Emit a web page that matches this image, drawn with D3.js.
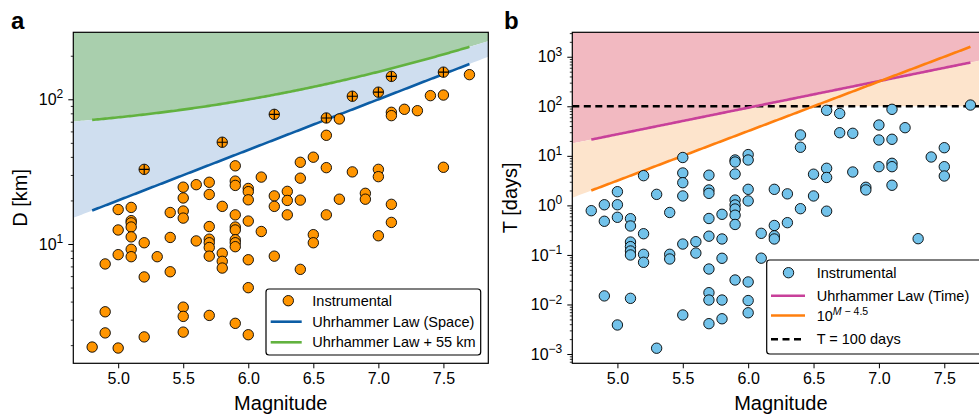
<!DOCTYPE html>
<html><head><meta charset="utf-8">
<script src="https://cdn.jsdelivr.net/npm/d3@7"></script>
<style>
body{margin:0;background:#fff}
svg{display:block}
text{font-family:"Liberation Sans",Arial,Helvetica,sans-serif;fill:#000}
</style>
</head><body>
<svg id="c" width="979" height="416"></svg>
<script>
// ---------------- DATA ----------------
// Panel a: instrumental events, magnitude and distance D [km]
const magA = [4.8,
  4.9,4.9,4.9,
  5.0,5.0,5.0,5.0,
  5.1,5.1,5.1,5.1,5.1,5.1,5.1,
  5.2,5.2,5.2,5.2,
  5.3,
  5.4,5.4,5.4,
  5.5,5.5,5.5,5.5,5.5,5.5,5.5,
  5.6,5.6,
  5.7,5.7,5.7,5.7,5.7,5.7,5.7,5.7,
  5.8,5.8,5.8,5.8,5.8,
  5.9,5.9,5.9,5.9,5.9,5.9,5.9,5.9,5.9,5.9,
  6.0,6.0,6.0,6.0,6.0,6.0,6.0,
  6.1,6.1,
  6.2,6.2,6.2,6.2,
  6.3,6.3,6.3,
  6.4,6.4,6.4,6.4,
  6.5,6.5,6.5,
  6.6,6.6,6.6,6.6,
  6.7,6.7,
  6.8,6.8,
  6.9,6.9,
  7.0,7.0,7.0,7.0,
  7.1,7.1,7.1,7.1,7.1,
  7.2,7.3,7.4,
  7.5,7.5,7.5,
  7.7];
const distA = [1.94,
  7.28,3.40,2.43,
  17.3,12.5,8.44,1.91,
  17.9,14.5,14.0,13.1,11.2,9.19,8.17,
  32.8,10.2,5.92,2.28,
  8.17,
  16.5,11.1,6.43,
  24.7,20.8,16.9,15.1,3.66,3.16,2.46,
  25.7,10.5,
  26.7,22.0,13.2,10.8,10.2,9.46,8.24,3.21,
  50.5,18.2,8.63,7.59,6.82,
  34.7,27.2,25.4,15.9,13.1,12.5,10.7,10.2,9.58,2.83,
  24.2,23.0,20.2,14.4,7.78,4.99,2.36,
  29.0,12.2,
  78.7,21.5,18.2,8.24,
  23.1,20.0,15.9,
  36.7,28.5,20.1,6.68,
  39.8,11.6,10.2,
  74.3,56.4,33.7,15.9,
  73.1,20.4,
  105,31.5,
  22.4,20.4,
  112,32.8,29.2,11.4,
  144,81.3,77.1,18.8,14.1,
  85.3,83.4,106,
  154,107,33.9,
  148];

// Panel b: instrumental events, magnitude and duration T [days]
const magB = [4.8,
  4.9,4.9,4.9,
  5.0,5.0,5.0,5.0,
  5.1,5.1,5.1,5.1,5.1,5.1,5.1,
  5.2,5.2,5.2,5.2,
  5.3,5.3,
  5.4,5.4,5.4,
  5.5,5.5,5.5,5.5,5.5,5.5,
  5.6,5.6,
  5.7,5.7,5.7,5.7,5.7,5.7,5.7,5.7,5.7,
  5.8,5.8,5.8,5.8,5.8,
  5.9,5.9,5.9,5.9,5.9,5.9,5.9,5.9,5.9,
  6.0,6.0,6.0,6.0,6.0,6.0,6.0,
  6.1,6.1,
  6.2,6.2,6.2,6.2,
  6.3,6.3,
  6.4,6.4,6.4,
  6.5,6.5,
  6.6,6.6,6.6,6.6,
  6.7,6.7,
  6.8,6.8,
  6.9,6.9,
  7.0,7.0,7.0,
  7.1,7.1,7.1,7.1,7.1,
  7.2,7.3,7.4,
  7.5,7.5,7.5,
  7.7];
const timeB = [0.782,
  1.03,0.478,0.0149,
  1.89,1.03,0.575,0.00386,
  0.539,0.384,0.182,0.147,0.120,0.0998,0.0133,
  3.98,0.268,0.103,0.0711,
  1.67,0.00131,
  0.719,0.103,0.0828,
  9.26,4.51,2.87,1.55,0.166,0.00614,
  0.185,0.109,
  4.07,2.05,1.75,0.544,0.239,0.052,0.0173,0.0123,0.0041,
  0.661,0.210,0.0856,0.0123,0.00515,
  8.25,7.51,4.30,1.28,1.02,0.846,0.634,0.412,0.0312,
  10.6,8.25,2.11,1.23,0.0285,0.0120,0.0068,
  0.273,0.086,
  2.11,0.393,0.243,0.210,
  1.71,0.448,
  26.4,14.9,0.858,
  4.26,1.55,
  83.0,5.61,3.66,0.764,
  71.6,29.3,
  28.5,4.72,
  2.32,2.05,
  41.9,20.9,6.04,
  86.9,21.6,7.07,6.04,2.55,
  37.0,0.213,9.48,
  14.6,6.04,3.92,
  106];

// Reference laws
const lawRange = [4.8, 7.7];          // magnitude span of the drawn law lines
const uhrSpace = {a: -1.024, b: 0.804}; // D = exp(a + b M) km
const uhrTime  = {a: -2.87,  b: 1.235}; // T = exp(a + b M) days
const offsetKm = 55;
const powOffset = 4.5;                  // T = 10^(M - 4.5)
const thresholdDays = 100;

// Ticks
const xTicks = [5.0, 5.5, 6.0, 6.5, 7.0, 7.5];
const aYTicks = [10, 100];
const bYTicks = [1e-3, 1e-2, 1e-1, 1, 10, 100, 1000];
const xDomain = [4.655, 7.845];
const aYDomain = [1.498, 290.4];
const bYDomain = [6.5e-4, 3115];

// Legend labels
const legendA = ["Instrumental", "Uhrhammer Law (Space)", "Uhrhammer Law + 55 km"];
const legendB = ["Instrumental", "Uhrhammer Law (Time)", "10^M − 4.5", "T = 100 days"];

// ---------------- DRAW ----------------
const uD = m => Math.exp(uhrSpace.a + uhrSpace.b * m);
const uT = m => Math.exp(uhrTime.a + uhrTime.b * m);
const pT = m => Math.pow(10, m - powOffset);

const svg = d3.select('#c');
const TOP = 32.3, BOT = 363.3;

const C = {
  orange: '#ff9500', sky: '#72c2ea',
  blueLine: '#0c5da5', greenLine: '#62b23f',
  blueFill: '#cfdeef', greenFill: '#a9cfad',
  magenta: '#c8409a', orangeLine: '#ff7f0e',
  pinkFill: '#f2b9c1', peachFill: '#fde4cc'
};

function grid(d0, d1, n) { return d3.range(n + 1).map(i => d0 + (d1 - d0) * i / n); }

function minorTicks(dom) {
  const out = [];
  const e0 = Math.floor(Math.log10(dom[0])), e1 = Math.ceil(Math.log10(dom[1]));
  for (let e = e0; e <= e1; e++) for (let k = 2; k <= 9; k++) {
    const v = k * Math.pow(10, e);
    if (v >= dom[0] && v <= dom[1]) out.push(v);
  }
  return out;
}

function supLabels(g) {
  g.selectAll('.tick text').each(function(d) {
    const t = d3.select(this); t.text(null);
    const e = Math.round(Math.log10(d));
    t.append('tspan').text('10');
    t.append('tspan').attr('dy', '-0.55em').attr('font-size', '12px')
      .text(e < 0 ? '\u2212' + (-e) : String(e));
  });
}

function frameAxes(id, L, R, x, y, yTicks, yDom, ylabel, ylabelX, letter, letterX) {
  const clip = svg.append('clipPath').attr('id', 'clip' + id);
  clip.append('rect').attr('x', L).attr('y', TOP).attr('width', R - L).attr('height', BOT - TOP);
  const plot = svg.append('g').attr('clip-path', `url(#clip${id})`);

  // axes
  const gx = svg.append('g').attr('transform', `translate(0,${BOT})`)
    .call(d3.axisBottom(x).tickValues(xTicks).tickSize(5).tickPadding(4).tickFormat(d3.format('.1f')));
  gx.select('.domain').remove();
  gx.selectAll('text').attr('font-size', '16px').attr('font-family', '"Liberation Sans",Arial,sans-serif');
  gx.selectAll('line').attr('stroke', '#000');

  const gyMinor = svg.append('g').attr('transform', `translate(${L},0)`)
    .call(d3.axisLeft(y).tickValues(minorTicks(yDom)).tickSize(2.5).tickFormat(''));
  gyMinor.select('.domain').remove();
  gyMinor.selectAll('line').attr('stroke', '#000').attr('stroke-width', 0.8);

  const gy = svg.append('g').attr('transform', `translate(${L},0)`)
    .call(d3.axisLeft(y).tickValues(yTicks).tickSize(5).tickPadding(5));
  gy.select('.domain').remove();
  gy.selectAll('line').attr('stroke', '#000');
  gy.selectAll('text').attr('font-size', '16px').attr('font-family', '"Liberation Sans",Arial,sans-serif');
  supLabels(gy);

  svg.append('text').attr('x', (L + R) / 2).attr('y', 410).attr('text-anchor', 'middle')
    .attr('font-size', '20px').text('Magnitude');
  svg.append('text').attr('transform', `translate(${ylabelX},${(TOP + BOT) / 2}) rotate(-90)`)
    .attr('text-anchor', 'middle').attr('font-size', '20px').text(ylabel);
  svg.append('text').attr('x', letterX).attr('y', 29).attr('font-size', '24px')
    .attr('font-weight', 'bold').text(letter);
  return plot;
}

function frameRect(L, R) {
  svg.append('rect').attr('x', L).attr('y', TOP).attr('width', R - L).attr('height', BOT - TOP)
    .attr('fill', 'none').attr('stroke', '#000').attr('stroke-width', 1.2);
}

// ===== Panel a =====
(function() {
  const L = 73.3, R = 488.3;
  const x = d3.scaleLinear().domain(xDomain).range([L, R]);
  const y = d3.scaleLog().domain(aYDomain).range([BOT, TOP]);
  const plot = frameAxes('a', L, R, x, y, aYTicks, aYDomain, 'D [km]', 27, 'a', 11);
  const full = grid(xDomain[0], xDomain[1], 200);
  const part = grid(lawRange[0], lawRange[1], 200);

  plot.append('path').datum(full).attr('fill', C.greenFill)
    .attr('d', d3.area().x(m => x(m)).y0(m => y(uD(m) + offsetKm)).y1(TOP));
  plot.append('path').datum(full).attr('fill', C.blueFill)
    .attr('d', d3.area().x(m => x(m)).y0(m => y(uD(m))).y1(m => y(uD(m) + offsetKm)));
  plot.append('path').datum(part).attr('fill', 'none').attr('stroke', C.blueLine).attr('stroke-width', 2.6)
    .attr('d', d3.line().x(m => x(m)).y(m => y(uD(m))));
  plot.append('path').datum(part).attr('fill', 'none').attr('stroke', C.greenLine).attr('stroke-width', 2.6)
    .attr('d', d3.line().x(m => x(m)).y(m => y(uD(m) + offsetKm)));

  const pts = magA.map((m, i) => ({m, d: distA[i]}));
  plot.selectAll('circle.pa').data(pts).join('circle').attr('class', 'pa')
    .attr('cx', p => x(p.m)).attr('cy', p => y(p.d)).attr('r', 5.2)
    .attr('fill', C.orange).attr('stroke', '#000').attr('stroke-width', 0.9);
  const plus = pts.filter(p => p.d > uD(p.m));
  plot.selectAll('path.plus').data(plus).join('path').attr('class', 'plus')
    .attr('d', p => `M${x(p.m) - 5},${y(p.d)}H${x(p.m) + 5}M${x(p.m)},${y(p.d) - 5}V${y(p.d) + 5}`)
    .attr('stroke', '#000').attr('stroke-width', 1.1);

  frameRect(L, R);

  // legend
  const lg = svg.append('g');
  lg.append('rect').attr('x', 266).attr('y', 289).attr('width', 214.7).attr('height', 66)
    .attr('rx', 3).attr('fill', '#fff').attr('stroke', '#000').attr('stroke-width', 1.2);
  const rows = [300.7, 321.7, 342.3];
  lg.append('circle').attr('cx', 288.3).attr('cy', rows[0]).attr('r', 5.2)
    .attr('fill', C.orange).attr('stroke', '#000').attr('stroke-width', 0.9);
  lg.append('line').attr('x1', 270.7).attr('x2', 301.7).attr('y1', rows[1]).attr('y2', rows[1])
    .attr('stroke', C.blueLine).attr('stroke-width', 2.6);
  lg.append('line').attr('x1', 270.7).attr('x2', 301.7).attr('y1', rows[2]).attr('y2', rows[2])
    .attr('stroke', C.greenLine).attr('stroke-width', 2.6);
  legendA.forEach((s, i) => lg.append('text').attr('x', 312.3).attr('y', rows[i] + 5)
    .attr('font-size', '14.5px').text(s));
})();

// ===== Panel b =====
(function() {
  const L = 572.3, R = 989.4;
  const x = d3.scaleLinear().domain(xDomain).range([L, R]);
  const y = d3.scaleLog().domain(bYDomain).range([BOT, TOP]);
  const plot = frameAxes('b', L, R, x, y, bYTicks, bYDomain, 'T [days]', 517, 'b', 504);
  const full = grid(xDomain[0], xDomain[1], 200);
  const part = grid(lawRange[0], lawRange[1], 200);

  plot.append('path').datum(full).attr('fill', C.pinkFill)
    .attr('d', d3.area().x(m => x(m)).y0(m => y(uT(m))).y1(TOP));
  plot.append('path').datum(full).attr('fill', C.peachFill)
    .attr('d', d3.area().x(m => x(m)).y0(m => y(Math.min(pT(m), thresholdDays))).y1(m => y(uT(m))));
  plot.append('line').attr('x1', L).attr('x2', R).attr('y1', y(thresholdDays)).attr('y2', y(thresholdDays))
    .attr('stroke', '#000').attr('stroke-width', 2.6).attr('stroke-dasharray', '7,4.5');
  plot.append('path').datum(part).attr('fill', 'none').attr('stroke', C.magenta).attr('stroke-width', 2.6)
    .attr('d', d3.line().x(m => x(m)).y(m => y(uT(m))));
  plot.append('path').datum(part).attr('fill', 'none').attr('stroke', C.orangeLine).attr('stroke-width', 2.6)
    .attr('d', d3.line().x(m => x(m)).y(m => y(pT(m))));

  const pts = magB.map((m, i) => ({m, t: timeB[i]}));
  plot.selectAll('circle.pb').data(pts).join('circle').attr('class', 'pb')
    .attr('cx', p => x(p.m)).attr('cy', p => y(p.t)).attr('r', 5.2)
    .attr('fill', C.sky).attr('stroke', '#000').attr('stroke-width', 0.9);

  frameRect(L, R);

  const lg = svg.append('g');
  lg.append('rect').attr('x', 766.7).attr('y', 260).attr('width', 215.5).attr('height', 94)
    .attr('rx', 3).attr('fill', '#fff').attr('stroke', '#000').attr('stroke-width', 1.2);
  const rows = [272.7, 295.7, 315.5, 339.3];
  lg.append('circle').attr('cx', 788.5).attr('cy', rows[0]).attr('r', 5.2)
    .attr('fill', C.sky).attr('stroke', '#000').attr('stroke-width', 0.9);
  lg.append('line').attr('x1', 771).attr('x2', 805).attr('y1', rows[1]).attr('y2', rows[1])
    .attr('stroke', C.magenta).attr('stroke-width', 2.6);
  lg.append('line').attr('x1', 771).attr('x2', 805).attr('y1', rows[2]).attr('y2', rows[2])
    .attr('stroke', C.orangeLine).attr('stroke-width', 2.6);
  lg.append('line').attr('x1', 771).attr('x2', 805).attr('y1', rows[3]).attr('y2', rows[3])
    .attr('stroke', '#000').attr('stroke-width', 2.6).attr('stroke-dasharray', '7,4.5');
  [0, 1, 3].forEach(i => lg.append('text').attr('x', 816.7).attr('y', rows[i] + 5)
    .attr('font-size', '14.5px').text(legendB[i]));
  const parts = legendB[2].split('^');           // "10", "M − 4.5"
  const t = lg.append('text').attr('x', 816.7).attr('y', rows[2] + 5).attr('font-size', '14.5px');
  t.append('tspan').text(parts[0]);
  const sup = parts[1].split(' ');
  t.append('tspan').attr('dy', -6).attr('font-size', '10.5px').attr('font-style', 'italic').text(sup[0]);
  t.append('tspan').attr('font-size', '10.5px').text(' ' + sup.slice(1).join(' '));
})();
</script>
</body></html>
